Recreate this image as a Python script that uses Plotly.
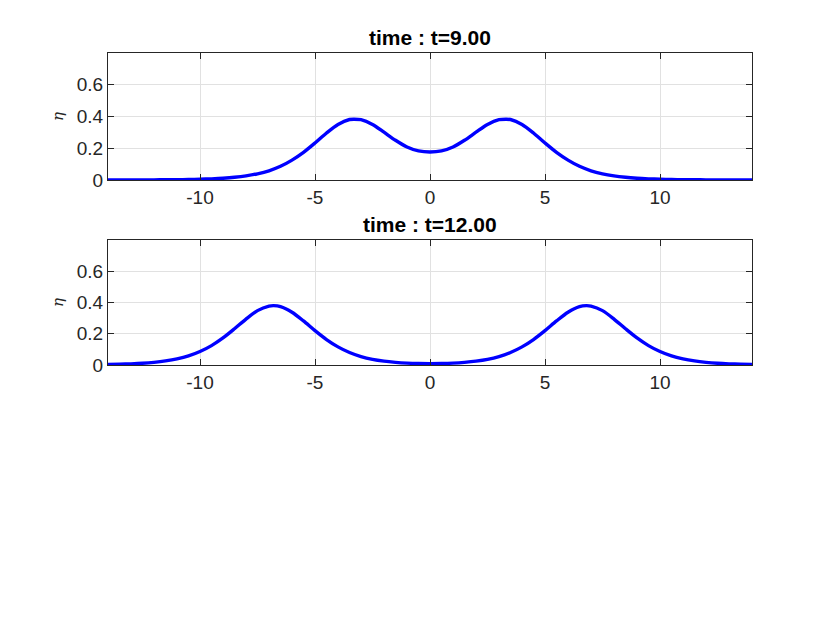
import plotly.graph_objects as go

# ---- data ----
x_vals = [-14.0, -13.5, -13.0, -12.5, -12.0, -11.5, -11.0, -10.5, -10.0, -9.5, -9.0, -8.5,
          -8.0, -7.5, -7.0, -6.5, -6.0, -5.5, -5.0, -4.5, -4.0, -3.5, -3.3, -3.0, -2.5,
          -2.0, -1.5, -1.0, -0.5, 0.0, 0.5, 1.0, 1.5, 2.0, 2.5, 3.0, 3.3, 3.5, 4.0, 4.5,
          5.0, 5.5, 6.0, 6.5, 7.0, 7.5, 8.0, 8.5, 9.0, 9.5, 10.0, 10.5, 11.0, 11.5, 12.0,
          12.5, 13.0, 13.5, 14.0]

# x >= 0 values for t=9: 0,0.5,1,1.5,2,2.5,3,3.3,3.5,4,...,14 (mirrored for x < 0)
eta_t9_right = [0.176, 0.183, 0.208, 0.250, 0.301, 0.350, 0.380, 0.383, 0.381, 0.350,
                0.296, 0.233, 0.174, 0.125, 0.086, 0.058, 0.039, 0.026, 0.017, 0.011,
                0.0073, 0.0048, 0.0031, 0.0020, 0.0013, 0.0009, 0.0006, 0.0004, 0.0002, 0.0002]
eta_t9 = eta_t9_right[::-1][:-1] + eta_t9_right

x_t12 = [-14.0, -13.5, -13.0, -12.5, -12.0, -11.5, -11.0, -10.5, -10.0, -9.5, -9.0, -8.5,
         -8.0, -7.5, -7.0, -6.8, -6.5, -6.0, -5.5, -5.0, -4.5, -4.0, -3.5, -3.0, -2.5,
         -2.0, -1.5, -1.0, -0.5, 0.0, 0.5, 1.0, 1.5, 2.0, 2.5, 3.0, 3.5, 4.0, 4.5, 5.0,
         5.5, 6.0, 6.5, 6.8, 7.0, 7.5, 8.0, 8.5, 9.0, 9.5, 10.0, 10.5, 11.0, 11.5, 12.0,
         12.5, 13.0, 13.5, 14.0]
# x >= 0 values for t=12 (mirrored for x < 0)
eta_t12_right = [0.009, 0.0095, 0.012, 0.017, 0.0245, 0.036, 0.054, 0.080, 0.116, 0.163,
                 0.220, 0.282, 0.338, 0.374, 0.380, 0.377, 0.348, 0.294, 0.232, 0.173,
                 0.124, 0.086, 0.058, 0.039, 0.026, 0.017, 0.011, 0.0073, 0.0048, 0.0031]
eta_t12 = eta_t12_right[::-1][:-1] + eta_t12_right

titles = ["time : t=9.00", "time : t=12.00"]
x_ticks = [-10, -5, 0, 5, 10]
y_ticks = [0, 0.2, 0.4, 0.6]
y_ticktext = ["0", "0.2", "0.4", "0.6"]

FONT = "Liberation Sans, Arial, Helvetica, sans-serif"
AX = "#262626"
GRID = "#e1e1e1"

fig = go.Figure()
fig.add_trace(go.Scatter(x=x_vals, y=eta_t9, mode="lines",
                         line=dict(color="#0000ff", width=3.4, shape="spline", smoothing=0.8),
                         xaxis="x", yaxis="y", showlegend=False))
fig.add_trace(go.Scatter(x=x_t12, y=eta_t12, mode="lines",
                         line=dict(color="#0000ff", width=3.4, shape="spline", smoothing=0.8),
                         xaxis="x2", yaxis="y2", showlegend=False))

common_x = dict(range=[-14, 14], tickvals=x_ticks, ticktext=[str(v) for v in x_ticks],
                showgrid=True, gridcolor=GRID, gridwidth=1, zeroline=False,
                showline=True, linecolor=AX, linewidth=1, mirror="ticks",
                ticks="inside", ticklen=6, tickcolor=AX, tickwidth=1,
                tickfont=dict(family=FONT, size=19, color=AX))
common_y = dict(range=[0, 0.8], tickvals=y_ticks, ticktext=y_ticktext,
                showgrid=True, gridcolor=GRID, gridwidth=1, zeroline=False,
                showline=True, linecolor=AX, linewidth=1, mirror="ticks",
                ticks="inside", ticklen=6, tickcolor=AX, tickwidth=1,
                tickfont=dict(family=FONT, size=19, color=AX),
                title=dict(text="<i>η</i>", font=dict(family="DejaVu Serif, serif", size=15, color=AX),
                           standoff=9))

top_dom = [0.593, 1.0]
bot_dom = [0.0, 0.4006]

fig.update_layout(
    width=830, height=621,
    margin=dict(l=100, r=86, t=45, b=264),
    paper_bgcolor="white", plot_bgcolor="white",
    xaxis=dict(domain=[0, 1], anchor="y", **common_x),
    yaxis=dict(domain=top_dom, anchor="x", **common_y),
    xaxis2=dict(domain=[0, 1], anchor="y2", **common_x),
    yaxis2=dict(domain=bot_dom, anchor="x2", **common_y),
    annotations=[
        dict(text="<b>" + titles[0] + "</b>", x=0.5, y=top_dom[1], xref="paper", yref="paper",
             xanchor="center", yanchor="bottom", yshift=2, showarrow=False,
             font=dict(family=FONT, size=21, color="black")),
        dict(text="<b>" + titles[1] + "</b>", x=0.5, y=bot_dom[1], xref="paper", yref="paper",
             xanchor="center", yanchor="bottom", yshift=2, showarrow=False,
             font=dict(family=FONT, size=21, color="black")),
    ],
)

fig.write_html("out.html")
